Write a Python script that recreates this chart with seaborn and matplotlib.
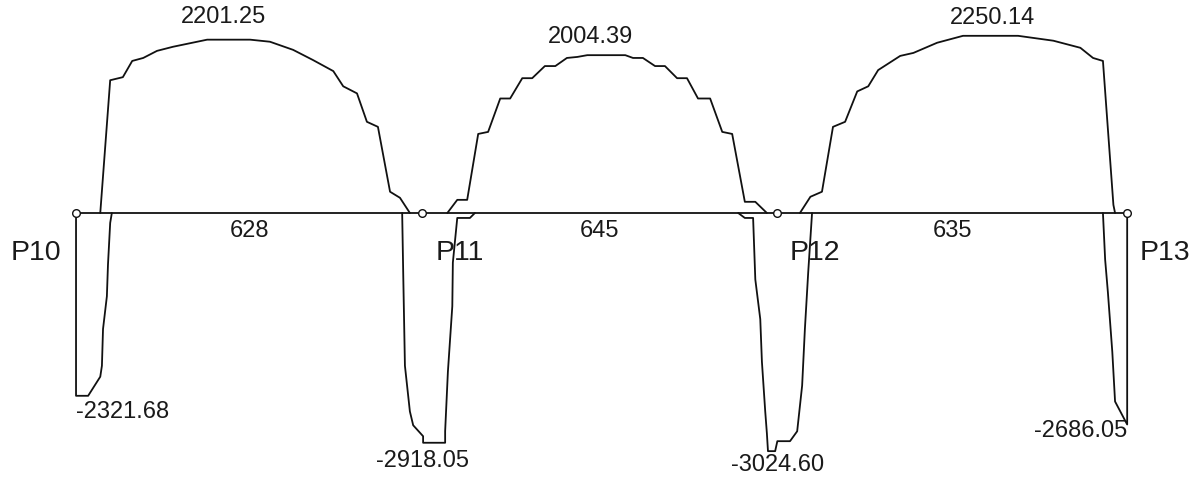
import pandas as pd
import matplotlib.pyplot as plt
import seaborn as sns

# supports and span lengths (cm)
supports = ["P10", "P11", "P12", "P13"]
span_lengths = [628, 645, 635]

# positive moment envelope per span, x measured from P10
pos1_x = [44, 62, 85, 102, 122, 147, 176, 238, 316, 352, 394, 430, 467, 485, 510, 528, 548, 570, 588, 606]
pos1_m = [0, 1686, 1725, 1931, 1969, 2059, 2111, 2201.25, 2201.25, 2175, 2072, 1943, 1802, 1609, 1519,
          1158, 1094, 270, 193, 0]

pos2_x = [674, 692, 710, 730, 748, 770, 788, 810, 828, 851, 870, 891, 910, 928, 997, 1011, 1029, 1051,
          1069, 1091, 1109, 1129, 1151, 1173, 1191, 1214, 1233, 1254]
pos2_m = [0, 167, 167, 1004, 1030, 1454, 1454, 1712, 1712, 1866, 1866, 1969, 1982, 2004.39, 2004.39,
          1969, 1969, 1866, 1866, 1712, 1712, 1454, 1454, 1030, 1004, 142, 142, 0]

pos3_x = [1314, 1333, 1354, 1374, 1396, 1418, 1438, 1456, 1496, 1520, 1563, 1610, 1710, 1774, 1823,
          1846, 1864, 1883, 1886]
pos3_m = [0, 206, 270, 1094, 1158, 1544, 1609, 1815, 1995, 2033, 2162, 2250.14, 2250.14, 2188, 2098,
          1969, 1931, 103, 0]

# negative moment envelope around each support
neg10_x = [0, 0, 22, 44, 47, 49, 56, 58, 62, 65]
neg10_m = [0, -2321.68, -2321.68, -2079, -1940, -1474, -1058, -655, -126, 0]

neg11_x = [592, 594, 597, 606, 612, 630, 630, 670, 670, 675, 683, 684, 692, 715, 724]
neg11_m = [0, -806, -1940, -2520, -2696, -2835, -2918.05, -2918.05, -2772, -2016, -1184, -630, -63,
           -63, 0]

neg12_x = [1202, 1214, 1229, 1233, 1242, 1245, 1251, 1254, 1256, 1269, 1273, 1296, 1309, 1318, 1323,
           1329, 1336]
neg12_m = [0, -63, -63, -844, -1348, -1890, -2520, -2797, -3024.60, -3024.60, -2898, -2898, -2772,
           -2192, -1474, -756, 0]

neg13_x = [1864, 1868, 1873, 1877, 1881, 1886, 1908, 1908]
neg13_m = [0, -592, -1008, -1386, -1764, -2394, -2686.05, 0]

sns.set_style("white")
plt.rcParams['font.family'] = ['Liberation Sans', 'DejaVu Sans']

support_x = [0]
for L in span_lengths:
    support_x.append(support_x[-1] + L)

fig = plt.figure(figsize=(12.01, 4.8), dpi=100)
ax = fig.add_axes([0, 0, 1, 1])
line_kw = dict(color="#111111", lw=1.3, sort=False, estimator=None, legend=False)

pos_curves = [(pos1_x, pos1_m), (pos2_x, pos2_m), (pos3_x, pos3_m)]
neg_curves = [(neg10_x, neg10_m), (neg11_x, neg11_m), (neg12_x, neg12_m), (neg13_x, neg13_m)]

for xs, ms in pos_curves + neg_curves:
    df = pd.DataFrame({"x": xs, "m": ms})
    sns.lineplot(data=df, x="x", y="m", ax=ax, **line_kw)

# beam axis and supports
ax.plot([support_x[0], support_x[-1]], [0, 0], color="#111111", lw=1.3)
ax.plot(support_x, [0] * len(support_x), "o", ms=5.5, mfc="white", mec="#111111", mew=1.0, zorder=5)

txt = dict(fontsize=17, color="#1a1a1a")

# peak labels
peak_label_x = [267, 933, 1663]
peak_dy = [16, 13, 13]
for (xs, ms), lx, dy in zip(pos_curves, peak_label_x, peak_dy):
    ax.annotate(f"{max(ms):.2f}", (lx, max(ms)), xytext=(0, dy), textcoords="offset points",
                ha="center", va="center", **txt)

# support moment labels
neg_align = ["left", "center", "center", "right"]
neg_dy = [-12, -13, -10, -5]
for (xs, ms), sx, ha, dy in zip(neg_curves, support_x, neg_align, neg_dy):
    ax.annotate(f"{min(ms):.2f}", (sx, min(ms)), xytext=(0, dy), textcoords="offset points",
                ha=ha, va="center", **txt)

# span lengths
for i, L in enumerate(span_lengths):
    mid = (support_x[i] + support_x[i + 1]) / 2
    ax.annotate(str(L), (mid, 0), xytext=(0, -13), textcoords="offset points",
                ha="center", va="center", **txt)

# support names
for i, (name, sx) in enumerate(zip(supports, support_x)):
    dx = -29 if i == 0 else 27
    ax.annotate(name, (sx, 0), xytext=(dx, -29), textcoords="offset points",
                ha="center", va="center", fontsize=20.5, color="#1a1a1a")

ax.set_xlim(-138, 2042)
ax.set_ylim(-3391, 2705)
ax.axis("off")

fig.savefig("out.png", dpi=100, facecolor="white")
